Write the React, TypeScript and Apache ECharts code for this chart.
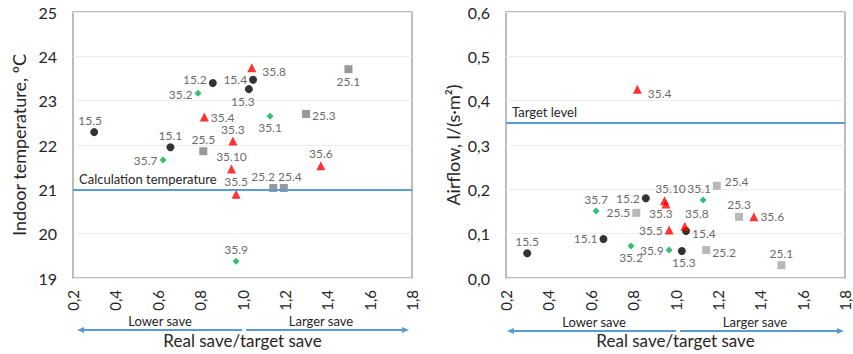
import React, { useEffect, useRef } from "react";
import * as echarts from "echarts";

// Point identifiers
const pointNames = ["15.1", "15.2", "15.3", "15.4", "15.5", "25.1", "25.2", "25.3", "25.4", "25.5", "35.1", "35.2", "35.3", "35.4", "35.5", "35.6", "35.7", "35.8", "35.9", "35.10"];
// Marker group of each point
const pointGroup = ["A", "A", "A", "A", "A", "B", "B", "B", "B", "B", "D", "D", "C", "C", "C", "C", "D", "C", "D", "C"];
// Real save / target save
const saveRatio = [0.66, 0.86, 1.03, 1.05, 0.30, 1.50, 1.145, 1.30, 1.195, 0.815, 1.13, 0.79, 0.955, 0.82, 0.97, 1.37, 0.625, 1.044, 0.97, 0.948];
// Indoor temperature, ºC
const indoorTemp = [21.95, 23.40, 23.26, 23.47, 22.29, 23.71, 21.03, 22.70, 21.03, 21.86, 22.65, 23.17, 22.09, 22.63, 20.89, 21.53, 21.66, 23.74, 19.38, 21.46];
// Airflow, l/(s·m²)
const airflow = [0.088, 0.180, 0.061, 0.106, 0.056, 0.029, 0.063, 0.138, 0.208, 0.147, 0.176, 0.072, 0.167, 0.426, 0.108, 0.138, 0.151, 0.117, 0.063, 0.174];

const calcTemperature = 21;
const targetAirflow = 0.35;

// Label placement (layout only)
const leftLabelPos = ["top", "left", "bottom", "left", "top", "bottom", "top", "right", "top", "top", "bottom", "left", "top", "right", "top", "top", "left", "right", "top", "top"];
const leftLabelOffset: number[][] = [[0, 0], [0, -3], [-6, 0], [0, 0], [-4, 0], [0, 0], [-10, 0], [0, 2], [6, 0], [0, 0], [0, 0], [0, 1], [0, 1], [0, 0], [0, 0], [0, 0], [0, 0], [4, 4], [0, 0], [0, 0]];
const rightLabelPos = ["left", "left", "bottom", "right", "top", "top", "right", "top", "right", "left", "top", "bottom", "bottom", "right", "left", "right", "top", "top", "left", "top"];
const rightLabelOffset: number[][] = [[0, 0], [0, 0], [2, 0], [0, 2], [0, 0], [0, 0], [0, 2], [0, 0], [2, -4], [0, 0], [-4, 0], [0, 0], [-5, -3], [4, 4], [0, 0], [0, 0], [0, 0], [12, 0], [0, 0], [6, 0]];

const FONT = "Lato";
const TXT = "#262626";
const BLUE = "#5b9bd5";

const groupStyle: Record<string, any> = {
  A: { symbol: "circle", size: 8, color: "#000000" },
  B: { symbol: "rect", size: 8, color: "#7f7f7f", colorRight: "#a6a6a6" },
  C: { symbol: "triangle", size: 9, color: "#ff0000" },
  D: { symbol: "diamond", size: 7, color: "#00b050" },
};

function buildSeries(chartIdx: number) {
  const ys = chartIdx === 0 ? indoorTemp : airflow;
  const pos = chartIdx === 0 ? leftLabelPos : rightLabelPos;
  const off = chartIdx === 0 ? leftLabelOffset : rightLabelOffset;
  return ["A", "B", "C", "D"].map((g, gi) => {
    const st = groupStyle[g];
    const data = pointNames
      .map((n, i) => ({ i, n }))
      .filter((d) => pointGroup[d.i] === g)
      .map((d) => ({
        name: d.n,
        value: [saveRatio[d.i], ys[d.i]],
        label: { position: pos[d.i], offset: off[d.i] },
      }));
    const s: any = {
      type: "scatter",
      xAxisIndex: chartIdx,
      yAxisIndex: chartIdx,
      symbol: st.symbol,
      symbolSize: st.size,
      itemStyle: { color: chartIdx === 1 && st.colorRight ? st.colorRight : st.color },
      label: {
        show: true,
        formatter: (p: any) => p.name,
        color: "#404040",
        fontFamily: FONT,
        fontSize: 12,
        distance: 2,
      },
      data,
    };
    if (gi === 0) {
      s.markLine = {
        silent: true,
        symbol: "none",
        animation: false,
        lineStyle: { color: BLUE, width: 2, type: "solid" },
        label: {
          show: true,
          position: "insideStartTop",
          formatter: chartIdx === 0 ? "Calculation temperature" : "Target level",
          color: TXT,
          fontFamily: FONT,
          fontSize: 13,
          distance: [6, 4],
        },
        data: [{ yAxis: chartIdx === 0 ? calcTemperature : targetAirflow }],
      };
    }
    return s;
  });
}

function arrows(y: number, x0: number, xm1: number, xm2: number, x1: number, lowerX: number, largerX: number) {
  const h = 3;
  const head = 7;
  return [
    { type: "line", shape: { x1: x0 + head - 1, y1: y, x2: xm1, y2: y }, style: { stroke: BLUE, lineWidth: 2 } },
    { type: "polygon", shape: { points: [[x0, y], [x0 + head, y - h], [x0 + head, y + h]] }, style: { fill: BLUE } },
    { type: "line", shape: { x1: xm2, y1: y, x2: x1 - head + 1, y2: y }, style: { stroke: BLUE, lineWidth: 2 } },
    { type: "polygon", shape: { points: [[x1, y], [x1 - head, y - h], [x1 - head, y + h]] }, style: { fill: BLUE } },
    { type: "text", x: lowerX, y: y - 9, style: { text: "Lower save", fill: TXT, font: `13px ${FONT}`, textAlign: "center", textVerticalAlign: "middle" } },
    { type: "text", x: largerX, y: y - 9, style: { text: "Larger save", fill: TXT, font: `13px ${FONT}`, textAlign: "center", textVerticalAlign: "middle" } },
  ];
}

const commaFmt = (d: number) => (v: number) => v.toFixed(d).replace(".", ",");

export default function App() {
  const ref = useRef<HTMLDivElement>(null);
  useEffect(() => {
    if (!ref.current) return;
    const chart = echarts.init(ref.current, null, { renderer: "svg" });
    const xAxisBase = (gi: number) => ({
      type: "value",
      gridIndex: gi,
      min: 0.2,
      max: 1.8,
      interval: 0.2,
      name: "Real save/target save",
      nameLocation: "middle",
      nameGap: 54,
      nameTextStyle: { color: TXT, fontFamily: FONT, fontSize: 17 },
      axisLine: { show: false },
      axisTick: { show: false },
      splitLine: { show: false },
      axisLabel: { rotate: 90, color: TXT, fontFamily: FONT, fontSize: 15, formatter: commaFmt(1), margin: 12 },
    });
    const gridBase = {
      top: 12,
      width: 339,
      height: 266,
      show: true,
      borderColor: "#a6a6a6",
      borderWidth: 1.5,
      backgroundColor: "transparent",
      containLabel: false,
      outerBoundsMode: "none",
    };
    chart.setOption({
      animation: false,
      backgroundColor: "#ffffff",
      grid: [
        { ...gridBase, left: 73 },
        { ...gridBase, left: 506 },
      ],
      xAxis: [xAxisBase(0), xAxisBase(1)],
      yAxis: [
        {
          type: "value",
          gridIndex: 0,
          min: 19,
          max: 25,
          interval: 1,
          name: "Indoor temperature, ºC",
          nameLocation: "middle",
          nameGap: 45,
          nameTextStyle: { color: TXT, fontFamily: FONT, fontSize: 18 },
          axisLine: { show: false },
          axisTick: { show: false },
          splitLine: { show: true, lineStyle: { color: "#ececec", width: 1 } },
          axisLabel: { color: TXT, fontFamily: FONT, fontSize: 16, margin: 16 },
        },
        {
          type: "value",
          gridIndex: 1,
          min: 0,
          max: 0.6,
          interval: 0.1,
          name: "Airflow, l/(s·m²)",
          nameLocation: "middle",
          nameGap: 44,
          nameTextStyle: { color: TXT, fontFamily: FONT, fontSize: 18 },
          axisLine: { show: false },
          axisTick: { show: false },
          splitLine: { show: true, lineStyle: { color: "#ececec", width: 1 } },
          axisLabel: { color: TXT, fontFamily: FONT, fontSize: 16, margin: 16, formatter: commaFmt(1) },
        },
      ],
      graphic: [
        ...arrows(330, 77, 242, 246, 409, 160, 321),
        ...arrows(331, 507, 676, 680, 844, 594, 755),
      ],
      series: [...buildSeries(0), ...buildSeries(1)],
    });
    return () => chart.dispose();
  }, []);
  return <div ref={ref} style={{ position: "absolute", left: 0, top: 0, width: 853, height: 354 }} />;
}
